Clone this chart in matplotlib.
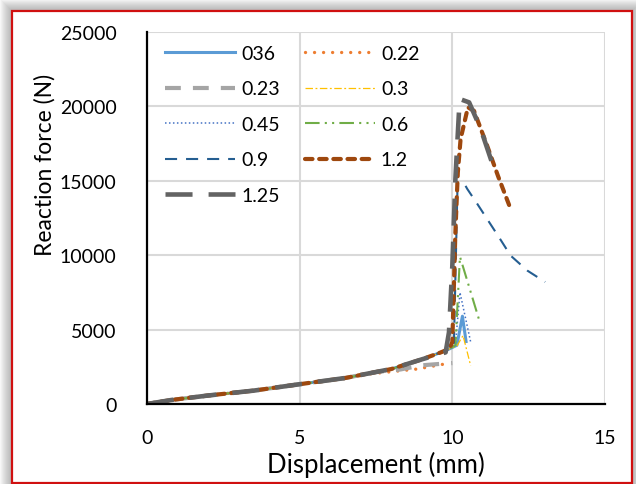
import matplotlib
matplotlib.use("Agg")
import matplotlib.pyplot as plt
from matplotlib.patches import Rectangle

plt.rcParams['font.family'] = ['Lato', 'DejaVu Sans']

# courbe commune (avant la rupture)
base_x = [0, 0.8, 2, 3.5, 5, 6.5, 8, 9, 9.6, 9.9]
base_y = [0, 270, 570, 900, 1330, 1750, 2350, 3000, 3450, 3700]

x_036 = base_x + [10.15, 10.33, 10.45]
y_036 = base_y + [3950, 5900, 4200]

x_022 = base_x[:6] + [7.2, 8.0, 8.85, 9.7]
y_022 = base_y[:6] + [2000, 2170, 2350, 2670]

x_023 = base_x[:6] + [7.5, 8.3, 9.0, 9.5, 10.0]
y_023 = base_y[:6] + [2150, 2320, 2600, 2680, 2750]

x_03 = base_x + [10.15, 10.35, 10.6]
y_03 = base_y + [3900, 4600, 2580]

x_045 = base_x + [10.1, 10.25, 10.6]
y_045 = base_y + [3950, 7500, 4170]

x_06 = base_x + [10.1, 10.25, 10.9]
y_06 = base_y + [3950, 9900, 5500]

x_09 = base_x + [10.05, 10.17, 10.38, 10.49, 10.82, 11.14, 11.53, 11.91, 12.46, 13.04]
y_09 = base_y + [3950, 14670, 14850, 14450, 13440, 12430, 11200, 9970, 8960, 8200]

x_12 = base_x + [10.0, 10.1, 10.18, 10.27, 10.51, 10.71, 11.14, 11.5, 11.86]
y_12 = base_y + [4170, 11550, 15570, 17800, 19940, 19700, 17360, 15300, 13370]

x_125 = base_x[:-2] + [9.78, 9.89, 10.0, 10.1, 10.24, 10.55, 10.93, 11.37]
y_125 = base_y[:-2] + [3470, 4820, 9300, 15120, 20500, 20270, 18480, 15790]

x_ticks = [0, 5, 10, 15]
y_ticks = [0, 5000, 10000, 15000, 20000, 25000]

fig = plt.figure(figsize=(6.36, 4.85), dpi=100)
W, H = 636, 485

# ombre grise autour du cadre
for d in range(1, 13):
    fig.patches.append(Rectangle(((12 - d) / W, (1 - d) / H),
                                 (620 + 2 * d) / W, (472 + 2 * d) / H,
                                 transform=fig.transFigure, facecolor='#707070',
                                 edgecolor='none', alpha=0.05, zorder=-3))
# cadre rouge
fig.patches.append(Rectangle((12 / W, 1 / H), 620 / W, 472 / H,
                             transform=fig.transFigure, facecolor='white',
                             edgecolor='#D01010', linewidth=1.6, zorder=-2))

ax = fig.add_axes([147 / W, 80 / H, 458 / W, 372 / H])
ax.set_facecolor('none')

lines = {}
lines['036'], = ax.plot(x_036, y_036, color='#5B9BD5', lw=2.2, label='036')
lines['0.22'], = ax.plot(x_022, y_022, color='#ED7D31', lw=2.4,
                         linestyle=(0, (0.01, 2.7)), dash_capstyle='round', label='0.22')
lines['0.23'], = ax.plot(x_023, y_023, color='#A5A5A5', lw=3.0,
                         linestyle=(0, (3.8, 2.9)), label='0.23')
lines['0.3'], = ax.plot(x_03, y_03, color='#FFC000', lw=0.9,
                        linestyle=(0, (6, 2, 1.5, 2)), label='0.3')
lines['0.45'], = ax.plot(x_045, y_045, color='#4472C4', lw=1.1,
                         linestyle=(0, (1, 1.6)), label='0.45')
lines['0.6'], = ax.plot(x_06, y_06, color='#70AD47', lw=1.5,
                        linestyle=(0, (7, 2.5, 1, 2.5, 1, 2.5)), label='0.6')
lines['0.9'], = ax.plot(x_09, y_09, color='#255E91', lw=1.5,
                        linestyle=(0, (5.8, 4.3)), label='0.9')
lines['1.2'], = ax.plot(x_12, y_12, color='#9E480E', lw=3.0,
                        linestyle=(0, (1.8, 1.6)), dash_capstyle='round', label='1.2')
lines['1.25'], = ax.plot(x_125, y_125, color='#636363', lw=3.3,
                         linestyle=(0, (5.9, 3.5)), label='1.25')

ax.set_xlim(0, 15)
ax.set_ylim(0, 25000)
ax.set_xticks(x_ticks)
ax.set_yticks(y_ticks)
ax.tick_params(length=0, labelsize=14, pad=18)
ax.tick_params(axis='y', pad=22)
ax.grid(True, color='#D9D9D9', lw=1.5)
ax.set_axisbelow(True)
for s in ['top', 'right']:
    ax.spines[s].set_visible(False)
for s in ['left', 'bottom']:
    ax.spines[s].set_linewidth(1.6)
    ax.spines[s].set_color('black')

ax.set_xlabel('Displacement (mm)', fontsize=18.5, va='center')
ax.set_ylabel('Reaction force (N)', fontsize=16.5, va='center')
ax.xaxis.set_label_coords(0.5, -0.161)
ax.yaxis.set_label_coords(-0.223, 0.645)

# ordre ligne par ligne comme dans Excel
order = ['036', '0.23', '0.45', '0.9', '1.25', '0.22', '0.3', '0.6', '1.2']
ax.legend([lines[k] for k in order], order, ncol=2, loc='upper left',
          bbox_to_anchor=(0.04, 0.965), frameon=False, fontsize=14,
          handlelength=3.6, handletextpad=0.3, labelspacing=0.95,
          columnspacing=1.3, borderaxespad=0, borderpad=0)

fig.savefig('out.png', dpi=100)
